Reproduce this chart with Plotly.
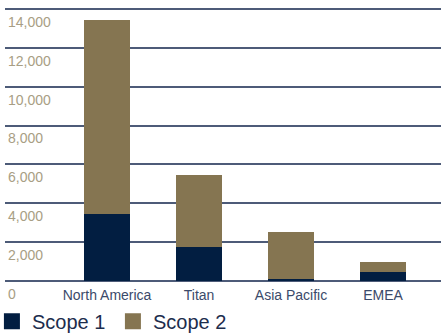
import plotly.graph_objects as go

categories = ["North America", "Titan", "Asia Pacific", "EMEA"]
scope1 = [3450, 1750, 100, 460]
scope2 = [10000, 3690, 2410, 510]
y_ticks = [0, 2000, 4000, 6000, 8000, 10000, 12000, 14000]
y_tick_labels = ["0", "2,000", "4,000", "6,000", "8,000", "10,000", "12,000", "14,000"]

NAVY = "#021e41"
TAN = "#857551"
GRID = "#4d5b78"

fig = go.Figure()
fig.add_trace(go.Bar(name="Scope 1", x=categories, y=scope1, marker_color=NAVY,
                     marker_line_width=0, showlegend=False))
fig.add_trace(go.Bar(name="Scope 2", x=categories, y=scope2, marker_color=TAN,
                     marker_line_width=0, showlegend=False))
# legend proxies (larger square swatches)
fig.add_trace(go.Scatter(name="Scope 1", x=[None], y=[None], mode="markers",
                         marker=dict(symbol="square", size=17, color=NAVY)))
fig.add_trace(go.Scatter(name="Scope 2", x=[None], y=[None], mode="markers",
                         marker=dict(symbol="square", size=17, color=TAN)))

fig.update_layout(
    barmode="stack",
    bargap=0.5,
    width=441, height=336,
    margin=dict(l=5, r=0, t=5, b=55, autoexpand=False),
    plot_bgcolor="white", paper_bgcolor="white",
    font=dict(family="Arial, Liberation Sans, sans-serif"),
    showlegend=True,
    legend=dict(orientation="h", x=-0.03, xanchor="left", y=-0.075, yanchor="top",
                font=dict(size=20, color="#1d2d4d"), traceorder="normal",
                itemsizing="trace", entrywidth=76,
                tracegroupgap=0, bgcolor="rgba(0,0,0,0)"),
)
fig.update_xaxes(
    type="category", range=[-1.109, 3.63],
    showgrid=False, showline=False, ticks="",
    ticklabelstandoff=4,
    tickfont=dict(size=14, color="#3b4a6a"),
)
fig.update_yaxes(
    range=[0, 14200], tickvals=y_ticks, ticktext=y_tick_labels,
    showgrid=True, gridcolor=GRID, gridwidth=2,
    zeroline=True, zerolinecolor=GRID, zerolinewidth=2,
    ticklabelposition="inside", ticklabelshift=13, ticklabeloverflow="allow", ticks="",
    tickfont=dict(size=14, color="#a89e84"),
)

fig.write_html("out.html", config={"displayModeBar": False},
               post_script="document.body.style.margin='0';")
